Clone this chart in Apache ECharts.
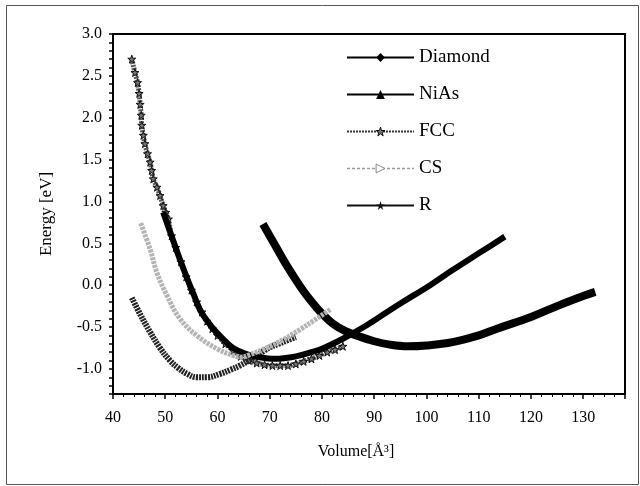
<!DOCTYPE html>
<html>
<head>
<meta charset="utf-8">
<script src="https://cdn.jsdelivr.net/npm/echarts@6/dist/echarts.min.js"></script>
<style>html,body{margin:0;padding:0;background:#fff;}#c{width:640px;height:486px;}</style>
</head>
<body>
<div id="c"></div>
<script>
// Volume (Å^3) and Energy (eV) values
const diamondV = [68.7, 71, 73.3, 76, 78.3, 80, 82.1, 84.5, 87, 90, 93, 96.5, 100, 105, 110, 113.5, 120, 125, 130, 132.3];
const diamondE = [0.73, 0.48, 0.23, -0.03, -0.22, -0.34, -0.46, -0.55, -0.61, -0.67, -0.71, -0.73, -0.72, -0.68, -0.60, -0.52, -0.38, -0.25, -0.13, -0.08];

const niasV = [49.6, 50.9, 52.5, 54.2, 55.5, 56.7, 58.3, 59.9, 61.5, 63, 65, 67, 69, 71, 73, 75, 78, 80, 84, 88, 91, 95, 100.7, 105, 110, 115];
const niasE = [0.87, 0.64, 0.36, 0.08, -0.12, -0.30, -0.45, -0.57, -0.67, -0.75, -0.81, -0.85, -0.87, -0.88, -0.87, -0.85, -0.80, -0.76, -0.64, -0.50, -0.38, -0.22, 0.0, 0.18, 0.38, 0.58];

const fccV = [43.6, 44.2, 44.7, 45.0, 45.2, 45.4, 45.5, 45.8, 46.1, 46.6, 47.1, 47.4, 47.7, 48.4, 49.0, 49.6, 50.1, 50.6, 51.2, 52.0, 53.0, 54.0, 55.0, 56.0, 57.0, 58.0, 59.0, 60.0, 61.5, 63.0, 64.5, 66.0, 67.5, 69.0, 70.5, 72.0, 73.5, 75.0, 76.5, 78.0, 79.5, 81.0, 82.5, 84.0];
const fccE = [2.70, 2.54, 2.42, 2.29, 2.16, 2.03, 1.91, 1.79, 1.69, 1.57, 1.47, 1.37, 1.27, 1.17, 1.07, 0.95, 0.87, 0.79, 0.59, 0.45, 0.28, 0.10, -0.06, -0.20, -0.32, -0.43, -0.52, -0.60, -0.70, -0.78, -0.85, -0.90, -0.93, -0.95, -0.96, -0.96, -0.96, -0.94, -0.91, -0.88, -0.84, -0.80, -0.77, -0.73];

const csV = [45.3, 47.1, 48.4, 50.3, 52.8, 56.0, 59.9, 63.0, 64.5, 66.2, 69.0, 72.6, 75.8, 78.5, 81.6];
const csE = [0.74, 0.43, 0.15, -0.12, -0.40, -0.60, -0.76, -0.84, -0.86, -0.83, -0.76, -0.65, -0.53, -0.42, -0.29];

const rV = [43.6, 45.3, 47.1, 49.0, 50.9, 52.5, 54.2, 56.0, 58.0, 60.5, 62.5, 64.3, 66.0, 67.5, 69.0, 70.1, 71.7, 73.3, 75.0];
const rE = [-0.15, -0.36, -0.56, -0.75, -0.90, -0.99, -1.06, -1.10, -1.10, -1.06, -1.01, -0.96, -0.90, -0.84, -0.78, -0.74, -0.70, -0.66, -0.62];

const xTicks = [40, 50, 60, 70, 80, 90, 100, 110, 120, 130];
const yTicks = [-1.0, -0.5, 0.0, 0.5, 1.0, 1.5, 2.0, 2.5, 3.0];
const seriesNames = ['Diamond', 'NiAs', 'FCC', 'CS', 'R'];

const pair = (xs, ys) => xs.map((x, i) => [x, ys[i]]);
const STAR = 'path://M50,0 L61,35 L98,35 L68,57 L79,91 L50,70 L21,91 L32,57 L2,35 L39,35 Z';
const FONT = '"Liberation Serif", "DejaVu Serif", serif';

const chart = echarts.init(document.getElementById('c'), null, {renderer: 'canvas'});
chart.setOption({
  animation: false,
  backgroundColor: '#fff',
  graphic: [{
    type: 'rect', left: 4, top: 3, shape: {width: 632, height: 479},
    style: {fill: 'none', stroke: '#555', lineWidth: 1}, silent: true, z: -1
  }],
  grid: {left: 113, right: 15, top: 34, bottom: 92, show: true, borderColor: '#000', borderWidth: 2, backgroundColor: 'transparent'},
  legend: {
    orient: 'vertical', left: 341, top: 43, itemWidth: 67, itemHeight: 11, itemGap: 18,
    textStyle: {fontFamily: FONT, fontSize: 19, color: '#000'},
    data: [
      {name: seriesNames[0], lineStyle: {width: 2, color: '#000', type: 'solid'}, itemStyle: {color: '#000'}},
      {name: seriesNames[1], lineStyle: {width: 2, color: '#000', type: 'solid'}, itemStyle: {color: '#000'}},
      {name: seriesNames[2], lineStyle: {width: 2, color: '#333', type: [2, 1]}, itemStyle: {color: '#777', borderColor: '#111', borderWidth: 1}},
      {name: seriesNames[3], lineStyle: {width: 1.5, color: '#999', type: [3, 2]}, itemStyle: {color: '#fff', borderColor: '#888', borderWidth: 1}},
      {name: seriesNames[4], lineStyle: {width: 2, color: '#111', type: 'solid'}, itemStyle: {color: '#111'}}
    ]
  },
  xAxis: {
    type: 'value', min: 40, max: 138, interval: 10,
    name: 'Volume[Å³]', nameLocation: 'middle', nameGap: 50,
    nameTextStyle: {fontFamily: FONT, fontSize: 16, color: '#000', padding: [0, 26, 0, 0]},
    axisLine: {show: true, onZero: false, lineStyle: {color: '#000', width: 2}},
    axisTick: {show: true, length: 5, lineStyle: {color: '#000', width: 1.5}},
    minorTick: {show: true, splitNumber: 5, length: 3, lineStyle: {color: '#000', width: 1}},
    splitLine: {show: false},
    axisLabel: {
      fontFamily: FONT, fontSize: 16, color: '#000', margin: 16, showMaxLabel: false,
      formatter: v => xTicks.indexOf(Math.round(v)) >= 0 && Math.abs(v - Math.round(v)) < 1e-6 ? String(Math.round(v)) : ''
    }
  },
  yAxis: {
    type: 'value', min: -1.3, max: 3.0, interval: 0.1,
    name: 'Energy [eV]', nameLocation: 'middle', nameGap: 58,
    nameTextStyle: {fontFamily: FONT, fontSize: 17, color: '#000'},
    axisLine: {show: true, onZero: false, lineStyle: {color: '#000', width: 2}},
    axisTick: {show: true, length: 4, lineStyle: {color: '#000', width: 1.5}},
    splitLine: {show: false},
    axisLabel: {
      fontFamily: FONT, fontSize: 16, color: '#000', margin: 11,
      formatter: v => {
        const hit = yTicks.find(t => Math.abs(t - v) < 1e-6);
        return hit === undefined ? '' : hit.toFixed(1);
      }
    }
  },
  series: [
    {name: 'FCC', type: 'line', data: pair(fccV, fccE), smooth: 0.3, symbol: STAR, symbolSize: 8, showSymbol: true,
     lineStyle: {color: '#555', width: 5, type: [2, 1]}, itemStyle: {color: '#777', borderColor: '#111', borderWidth: 1}, z: 2},
    {name: 'R', type: 'line', data: pair(rV, rE), smooth: 0.4, symbol: STAR, symbolSize: 7, showSymbol: false,
     lineStyle: {color: '#222', width: 6, type: [2, 1]}, itemStyle: {color: '#111'}, z: 3},
    {name: 'NiAs', type: 'line', data: pair(niasV, niasE), smooth: 0.4, symbol: 'triangle', symbolSize: 8, showSymbol: false,
     lineStyle: {color: '#000', width: 6}, itemStyle: {color: '#000'}, z: 4},
    {name: 'Diamond', type: 'line', data: pair(diamondV, diamondE), smooth: 0.4, symbol: 'diamond', symbolSize: 10, showSymbol: false,
     lineStyle: {color: '#000', width: 8}, itemStyle: {color: '#000'}, z: 5},
    {name: 'CS', type: 'line', data: pair(csV, csE), smooth: 0.4, symbol: 'triangle', symbolRotate: -90, symbolSize: 8, showSymbol: false,
     lineStyle: {color: '#b4b4b4', width: 5, type: [3, 1]}, itemStyle: {color: '#fff', borderColor: '#888'}, z: 6}
  ]
});
</script>
</body>
</html>
